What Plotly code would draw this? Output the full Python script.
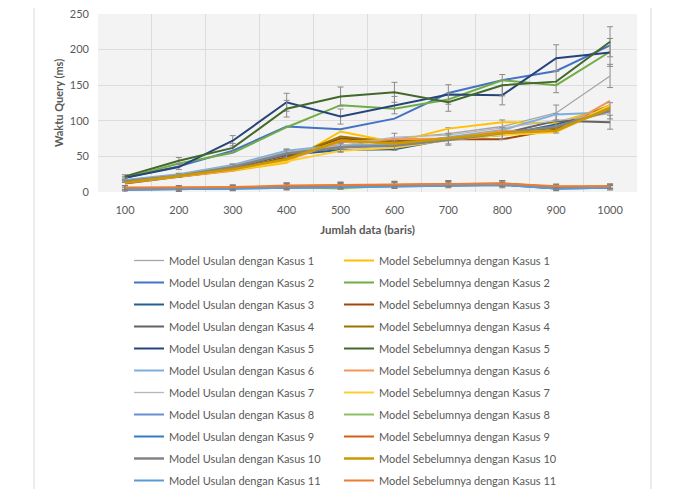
import plotly.graph_objects as go

x_vals = [100, 200, 300, 400, 500, 600, 700, 800, 900, 1000]
x_labels = ["100", "200", "300", "400", "500", "600", "700", "800", "900", "1000"]

usulan_1 = [15, 23, 36, 55, 64, 75, 82, 92, 111, 163]
sebelum_1 = [14, 22, 30, 41, 85, 70, 89, 98, 97, 120]
usulan_2 = [20, 36, 58, 92, 88, 103, 139, 157, 170, 206]
sebelum_2 = [20, 40, 55, 91, 122, 117, 130, 157, 150, 197]
usulan_3 = [13, 23, 34, 52, 59, 60, 74, 80, 95, 116]
sebelum_3 = [12, 21, 31, 49, 75, 72, 74, 74, 88, 118]
usulan_4 = [16, 24, 35, 53, 62, 68, 75, 82, 100, 98]
sebelum_4 = [14, 22, 32, 47, 78, 70, 76, 84, 90, 122]
usulan_5 = [20, 35, 72, 126, 106, 122, 137, 136, 188, 196]
sebelum_5 = [22, 44, 62, 117, 134, 140, 126, 150, 155, 211]
usulan_6 = [17, 25, 38, 58, 66, 66, 77, 87, 109, 112]
sebelum_6 = [13, 21, 30, 45, 70, 74, 75, 86, 85, 128]
usulan_7 = [16, 24, 37, 56, 65, 77, 80, 90, 100, 110]
sebelum_7 = [14, 22, 31, 43, 58, 62, 73, 80, 84, 122]
usulan_8 = [4, 4, 5, 7, 8, 9, 10, 11, 5, 6]
sebelum_8 = [5, 5, 6, 7, 5, 9, 10, 11, 6, 7]
usulan_9 = [3, 4, 5, 7, 8, 9, 10, 10, 5, 6]
sebelum_9 = [6, 6, 6, 8, 9, 10, 11, 12, 7, 8]
usulan_10 = [15, 23, 35, 54, 63, 65, 73, 82, 92, 114]
sebelum_10 = [13, 22, 32, 46, 72, 68, 75, 83, 86, 118]
usulan_11 = [3, 4, 5, 7, 8, 8, 10, 10, 5, 6]
sebelum_11 = [6, 6, 7, 9, 10, 11, 12, 12, 8, 8]

# error bar sizes (ms)
err_small = [3, 3, 3, 4, 4, 4, 4, 4, 3, 3]

x_title = "Jumlah data (baris)"
y_title = "Waktu Query (ms)"

series = [
    ("Model Usulan dengan Kasus 1", usulan_1, "#A5A5A5", 1.3, "pct"),
    ("Model Sebelumnya dengan Kasus 1", sebelum_1, "#FFC000", 2, None),
    ("Model Usulan dengan Kasus 2", usulan_2, "#4472C4", 2, None),
    ("Model Sebelumnya dengan Kasus 2", sebelum_2, "#70AD47", 2, None),
    ("Model Usulan dengan Kasus 3", usulan_3, "#255E91", 2, None),
    ("Model Sebelumnya dengan Kasus 3", sebelum_3, "#9E480E", 2, None),
    ("Model Usulan dengan Kasus 4", usulan_4, "#636363", 2, "pct"),
    ("Model Sebelumnya dengan Kasus 4", sebelum_4, "#997300", 2, None),
    ("Model Usulan dengan Kasus 5", usulan_5, "#264478", 2, "pct"),
    ("Model Sebelumnya dengan Kasus 5", sebelum_5, "#43682B", 2, "pct"),
    ("Model Usulan dengan Kasus 6", usulan_6, "#7CAFDD", 2, None),
    ("Model Sebelumnya dengan Kasus 6", sebelum_6, "#F1975A", 2, None),
    ("Model Usulan dengan Kasus 7", usulan_7, "#B7B7B7", 1.3, None),
    ("Model Sebelumnya dengan Kasus 7", sebelum_7, "#FFCD33", 2, None),
    ("Model Usulan dengan Kasus 8", usulan_8, "#698ED0", 2, None),
    ("Model Sebelumnya dengan Kasus 8", sebelum_8, "#8CC168", 2, None),
    ("Model Usulan dengan Kasus 9", usulan_9, "#327DC2", 2, "abs"),
    ("Model Sebelumnya dengan Kasus 9", sebelum_9, "#D26012", 2, "abs"),
    ("Model Usulan dengan Kasus 10", usulan_10, "#848484", 2.5, "pct"),
    ("Model Sebelumnya dengan Kasus 10", sebelum_10, "#CC9A00", 2.5, None),
    ("Model Usulan dengan Kasus 11", usulan_11, "#5B9BD5", 2, None),
    ("Model Sebelumnya dengan Kasus 11", sebelum_11, "#ED7D31", 2, "abs"),
]

FONT = "Lato, Carlito, Calibri, 'Noto Sans', sans-serif"

fig = go.Figure()
for i, (name, vals, color, width, err) in enumerate(series):
    err_cfg = None
    if err == "pct":
        err_cfg = dict(type="percent", value=10, color="#8c8c8c", thickness=1, width=3)
    elif err == "abs":
        err_cfg = dict(type="data", array=err_small, color="#7f7f7f", thickness=1.2, width=3)
    fig.add_trace(go.Scatter(
        x=x_vals, y=vals, mode="lines", name=name,
        legend="legend" if i % 2 == 0 else "legend2",
        legendgroup=f"g{i}",
        line=dict(color=color, width=width),
        error_y=err_cfg,
    ))

legend_common = dict(
    orientation="v",
    xref="container", yref="container",
    yanchor="top", xanchor="left",
    y=1 - 238 / 481,
    tracegroupgap=3,
    maxheight=1,
    font=dict(family=FONT, size=11, color="#595959"),
    traceorder="grouped",
    bgcolor="rgba(0,0,0,0)",
)

# page body has an 8px margin, so the figure is 673x481 placed at (8, 8)
fig.update_layout(
    width=673, height=481,
    margin=dict(l=90, r=44, t=6, b=297, autoexpand=False),
    paper_bgcolor="white",
    plot_bgcolor="#f3f3f3",
    font=dict(family=FONT, size=11, color="#595959"),
    showlegend=True,
    legend=dict(legend_common, x=121 / 673),
    legend2=dict(legend_common, x=331 / 673),
    xaxis=dict(
        range=[50, 1050], automargin=False,
        tickvals=x_vals, ticktext=x_labels,
        showgrid=False, zeroline=False, showline=False, ticks="",
        ticklabelstandoff=10,
        minor=dict(tick0=50, dtick=100, showgrid=True, gridcolor="#dcdcdc", gridwidth=1),
        title=dict(text="<b>" + x_title + "</b>", font=dict(size=11.5, color="#595959"), standoff=10),
        tickfont=dict(size=11, color="#595959"),
    ),
    yaxis=dict(
        range=[0, 250], dtick=50, automargin=False,
        showgrid=True, gridcolor="#dcdcdc", gridwidth=1,
        zeroline=False, showline=False, ticks="",
        ticklabelstandoff=8, ticklabeloverflow="allow",
        tickfont=dict(size=11, color="#595959"),
    ),
)

# y-axis title as a rotated annotation left of the tick labels
fig.add_annotation(
    text="<b>" + y_title + "</b>", textangle=-90,
    xref="paper", yref="paper", x=-0.074, y=0.5,
    xanchor="center", yanchor="middle", showarrow=False,
    font=dict(family=FONT, size=11, color="#595959"),
)

# page borders
fig.add_shape(type="line", xref="paper", yref="paper", x0=-0.1187, x1=-0.1187, y0=-1.8, y1=1.1,
              line=dict(color="#d9d9d9", width=1))
fig.add_shape(type="line", xref="paper", yref="paper", x0=1.026, x1=1.026, y0=-1.8, y1=1.1,
              line=dict(color="#d9d9d9", width=1))

fig.write_html("out.html")
